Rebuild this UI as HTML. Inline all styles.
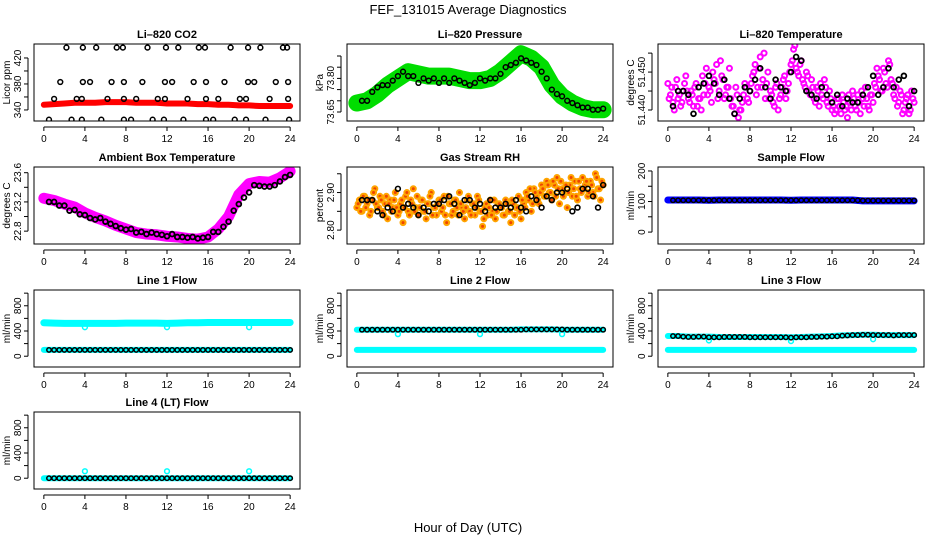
<!DOCTYPE html>
<html><head><meta charset="utf-8"><style>
html,body{margin:0;padding:0;background:#fff}
svg{display:block;font-family:"Liberation Sans",sans-serif}
</style></head><body>
<svg id="c" width="936" height="540" xmlns="http://www.w3.org/2000/svg">
<text x="468" y="14" text-anchor="middle" font-size="13">FEF_131015  Average Diagnostics</text>
<text x="468" y="532" text-anchor="middle" font-size="13">Hour of Day (UTC)</text>
</svg>
<script>
const xTicks=[0,4,8,12,16,20,24];
// CO2
const co2FineT=[0,1,2,3,4,5,6,7,8,9,10,11,12,13,14,15,16,17,18,19,20,21,22,23,24];
const co2Fine=[348,349,350,351,351,351,352,352,352,351,351,351,350,350,350,349,349,348,348,347,347,346,346,346,346];
const co2AvgT=[2.2,3.8,5.1,7.1,7.7,10.1,11.9,13.1,15.1,15.7,18.2,19.9,21.1,23.3,23.7,1.6,3.8,4.5,6.6,7.8,9.6,11.8,12.5,14.6,15.8,17.6,19.9,20.5,22.6,23.8,1.0,3.2,3.7,6.2,7.8,9.0,11.1,11.8,14.0,15.8,17.0,19.1,19.7,22.0,23.8,0.5,2.7,3.7,5.6,7.8,8.5,10.6,11.7,13.6,15.8,16.5,18.6,19.7,21.6,23.9];
const co2Avg=[436,436,436,436,436,436,436,436,436,436,436,436,436,436,436,383,383,383,383,383,383,383,383,383,383,383,383,383,383,383,357,357,357,357,357,357,357,357,357,357,357,357,357,357,357,325,325,325,325,325,325,325,325,325,325,325,325,325,325,325];
// Pressure
const presFine=[73.69,73.70,73.73,73.77,73.80,73.83,73.82,73.81,73.81,73.81,73.80,73.79,73.79,73.80,73.83,73.87,73.91,73.89,73.85,73.77,73.72,73.69,73.67,73.66,73.66];
const presAvg=[73.70,73.70,73.74,73.76,73.77,73.77,73.79,73.81,73.83,73.81,73.81,73.78,73.80,73.79,73.80,73.78,73.80,73.78,73.80,73.79,73.78,73.77,73.78,73.80,73.79,73.80,73.80,73.82,73.85,73.86,73.87,73.89,73.88,73.87,73.86,73.83,73.80,73.75,73.73,73.72,73.70,73.69,73.68,73.67,73.67,73.66,73.66,73.665];
// Li-820 temperature
const tempFine=[51.447,51.444,51.442,51.446,51.443,51.441,51.445,51.449,51.443,
51.445,51.441,51.447,51.443,51.440,51.444,51.451,51.446,
51.442,51.448,51.452,51.445,51.449,51.443,51.446,51.451,
51.441,51.439,51.444,51.440,51.442,51.447,51.443,51.445,
51.449,51.452,51.446,51.454,51.448,51.443,51.450,51.445,
51.442,51.446,51.440,51.444,51.448,51.443,51.447,51.452,
51.456,51.451,51.449,51.453,51.447,51.450,51.445,51.448,
51.443,51.446,51.441,51.444,51.448,51.442,51.445,51.440,
51.439,51.443,51.441,51.444,51.440,51.438,51.442,51.445,
51.441,51.444,51.439,51.443,51.446,51.441,51.444,51.442,
51.446,51.449,51.445,51.451,51.447,51.453,51.448,51.444,
51.446,51.442,51.444,51.440,51.443,51.439,51.445,51.442];
const tempFine2=[51.443,51.446,51.440,51.448,51.444,51.442,51.447,51.445,
51.442,51.444,51.446,51.441,51.443,51.449,51.447,51.444,
51.445,51.450,51.447,51.443,51.453,51.448,51.444,51.446,
51.443,51.441,51.446,51.438,51.440,51.444,51.446,51.442,
51.447,51.450,51.444,51.451,51.446,51.455,51.447,51.443,
51.444,51.441,51.447,51.443,51.446,51.449,51.445,51.450,
51.453,51.457,51.450,51.452,51.448,51.446,51.449,51.444,
51.446,51.442,51.445,51.447,51.443,51.446,51.441,51.443,
51.441,51.440,51.443,51.439,51.442,51.441,51.444,51.440,
51.443,51.440,51.442,51.445,51.441,51.443,51.440,51.444,
51.447,51.451,51.448,51.445,51.450,51.446,51.452,51.447,
51.443,51.441,51.445,51.439,51.442,51.444,51.440,51.443];
const tempAvg=[51.441,51.445,51.445,51.444,51.439,51.446,51.447,51.449,51.447,51.444,51.448,51.443,51.439,51.443,51.446,51.445,51.448,51.451,51.446,51.443,51.448,51.446,51.445,51.450,51.454,51.453,51.445,51.444,51.443,51.446,51.444,51.442,51.444,51.441,51.443,51.442,51.442,51.444,51.446,51.449,51.444,51.446,51.451,51.446,51.448,51.449,51.441,51.445];
// Ambient
const ambFine=[23.25,23.22,23.17,23.13,23.05,22.99,22.94,22.88,22.83,22.78,22.76,22.75,22.73,22.72,22.70,22.69,22.72,22.83,23.00,23.30,23.45,23.48,23.47,23.53,23.62];
const ambAvg=[23.20,23.20,23.15,23.15,23.08,23.09,23.03,23.02,22.98,22.96,22.98,22.93,22.90,22.87,22.84,22.82,22.83,22.78,22.79,22.76,22.78,22.76,22.75,22.73,22.76,22.72,22.72,22.71,22.72,22.70,22.71,22.72,22.79,22.79,22.86,22.93,23.08,23.17,23.26,23.33,23.43,23.42,23.41,23.41,23.43,23.48,23.54,23.57];
// RH
const rhFine=[2.86,2.88,2.85,2.89,2.87,2.84,2.88,2.91,2.86,
2.89,2.85,2.87,2.83,2.88,2.86,2.90,2.84,
2.87,2.82,2.89,2.85,2.88,2.91,2.86,2.84,
2.88,2.85,2.83,2.87,2.90,2.86,2.84,2.88,
2.85,2.89,2.82,2.87,2.84,2.88,2.86,2.90,
2.86,2.83,2.88,2.85,2.87,2.84,2.89,2.85,
2.81,2.86,2.84,2.88,2.85,2.83,2.87,2.86,
2.84,2.88,2.85,2.82,2.87,2.86,2.89,2.83,
2.87,2.90,2.88,2.85,2.91,2.89,2.87,2.92,
2.89,2.93,2.90,2.88,2.92,2.94,2.87,2.91,
2.90,2.86,2.92,2.89,2.93,2.88,2.91,2.94,
2.92,2.89,2.93,2.90,2.95,2.91,2.88,2.92];
const rhFine2=[2.87,2.85,2.89,2.86,2.88,2.85,2.90,2.87,
2.86,2.88,2.84,2.89,2.87,2.85,2.88,2.86,
2.85,2.88,2.86,2.90,2.84,2.87,2.85,2.89,
2.86,2.88,2.85,2.87,2.89,2.84,2.86,2.87,
2.88,2.86,2.84,2.89,2.87,2.85,2.88,2.84,
2.87,2.85,2.86,2.89,2.84,2.87,2.86,2.88,
2.85,2.83,2.87,2.86,2.84,2.88,2.85,2.87,
2.86,2.84,2.87,2.85,2.88,2.84,2.86,2.85,
2.88,2.86,2.89,2.91,2.87,2.90,2.88,2.90,
2.91,2.89,2.92,2.90,2.93,2.89,2.91,2.93,
2.89,2.92,2.90,2.94,2.91,2.89,2.93,2.90,
2.91,2.93,2.90,2.92,2.89,2.94,2.91,2.93];
const rhAvg=[2.88,2.88,2.88,2.85,2.84,2.86,2.85,2.91,2.86,2.87,2.86,2.84,2.86,2.85,2.87,2.87,2.88,2.89,2.87,2.84,2.88,2.88,2.86,2.87,2.85,2.88,2.86,2.86,2.87,2.86,2.88,2.86,2.85,2.89,2.88,2.86,2.89,2.88,2.90,2.90,2.91,2.85,2.86,2.91,2.91,2.89,2.86,2.92];
// Flows
const sampFine=[105,105,105,105,104,105,105,105,105,105,105,105,104,105,105,105,105,105,105,102,102,102,102,102,102];
const sampAvg=[104,104,104,104,104,104,104,104,104,104,104,104,104,104,104,104,104,104,104,104,104,104,104,104,104,104,104,104,104,104,104,104,104,104,104,104,104,103,103,103,103,103,103,103,103,103,103,103];
const l1Hi=[530,525,520,520,520,520,520,520,525,525,525,525,520,525,530,530,535,535,535,535,535,535,535,535,535];
const l1Lo=[100,100,100,100,100,100,100,100,100,100,100,100,100,100,100,100,100,100,100,100,100,100,100,100,100];
const l1Avg=[100,100,100,100,100,100,100,100,100,100,100,100,100,100,100,100,100,100,100,100,100,100,100,100,100,100,100,100,100,100,100,100,100,100,100,100,100,100,100,100,100,100,100,100,100,100,100,100];
const l1Out=[460,460,460];
const l2Hi=[420,420,420,420,420,420,420,420,420,420,420,420,420,420,420,420,425,425,425,425,420,420,420,420,420];
const l2Lo=[100,100,100,100,100,100,100,100,100,100,100,100,100,100,100,100,100,100,100,100,100,100,100,100,100];
const l2Avg=[420,420,420,420,420,420,420,420,420,420,420,420,420,420,420,420,420,420,420,420,420,420,420,420,420,420,420,420,420,420,420,420,425,425,425,425,425,425,425,425,420,420,420,420,420,420,420,420];
const l2Out=[350,350,350];
const l3Hi=[320,320,310,310,310,305,305,305,305,305,305,305,300,305,310,315,320,330,335,340,340,335,335,335,335];
const l3Lo=[100,100,100,100,100,100,100,100,100,100,100,100,100,100,100,100,100,100,100,100,100,100,100,100,100];
const l3Avg=[320,320,310,305,305,310,310,300,300,300,305,305,305,305,305,300,300,300,300,300,300,300,300,295,300,300,300,305,305,310,310,315,315,325,330,335,335,340,340,335,335,335,335,330,335,335,335,335];
const l3Out=[250,240,270];
const l4Hi=[0,0,0,0,0,0,0,0,0,0,0,0,0,0,0,0,0,0,0,0,0,0,0,0,0];
const l4Avg=[0,0,0,0,0,0,0,0,0,0,0,0,0,0,0,0,0,0,0,0,0,0,0,0,0,0,0,0,0,0,0,0,0,0,0,0,0,0,0,0,0,0,0,0,0,0,0,0];
const l4Out=[110,110,110];
const outT=[4,12,20];

const NS='http://www.w3.org/2000/svg';
const svg=document.getElementById('c');
const colL=[34,347,658], rowT=[44,167,290,412], PW=266, PH=77;
const hourly=[0,1,2,3,4,5,6,7,8,9,10,11,12,13,14,15,16,17,18,19,20,21,22,23,24];
const quarter=[];for(let i=0;i<97;i++)quarter.push(i*0.25);
const quarter2=[];for(let i=0;i<96;i++)quarter2.push(0.125+i*0.25);
const half=[];for(let i=1;i<=48;i++)half.push(i*0.5);
function mk(tag,attrs,parent){const e=document.createElementNS(NS,tag);for(const k in attrs)e.setAttribute(k,attrs[k]);(parent||svg).appendChild(e);return e;}

function panel(p){
  const L=colL[p.col],T=rowT[p.row];
  const g=mk('g',{});
  
  
  const X=h=>L+(h+0.96)/25.92*PW;
  const Y=v=>T+PH-(v-p.lo)/(p.hi-p.lo)*PH;
  const t=mk('text',{x:L+PW/2,y:T-6,'text-anchor':'middle','font-size':'11','font-weight':'bold'},g);
  t.textContent=p.title;
  
  
  const xa=mk('g',{},g);
  
  
  mk('line',{x1:X(0),x2:X(24),y1:T+PH+6,y2:T+PH+6,stroke:'#000'},xa);
  xTicks.forEach(h=>{mk('line',{x1:X(h),x2:X(h),y1:T+PH+6,y2:T+PH+10,stroke:'#000'},xa);
    const tx=mk('text',{x:X(h),y:T+PH+21,'text-anchor':'middle','font-size':'10'},xa);tx.textContent=h;
    
    });
  const ya=mk('g',{},g);
  
  
  mk('line',{x1:L-6,x2:L-6,y1:Y(p.ticks[0]),y2:Y(p.ticks[p.ticks.length-1]),stroke:'#000'},ya);
  p.ticks.forEach(v=>mk('line',{x1:L-10,x2:L-6,y1:Y(v),y2:Y(v),stroke:'#000'},ya));
  p.labels.forEach(v=>{const tx=mk('text',{x:0,y:0,'text-anchor':'middle','font-size':'10',transform:`translate(${L-13},${Y(v)}) rotate(-90)`},ya);tx.textContent=v;
    
    });
  const yt=mk('text',{x:0,y:0,'text-anchor':'middle','font-size':'10',transform:`translate(${L-24},${T+PH/2}) rotate(-90)`},ya);
  yt.textContent=p.ylab;
  
  
  const clip='cl'+p.row+p.col;
  const cp=mk('clipPath',{id:clip},g);mk('rect',{x:L,y:T,width:PW,height:PH},cp);
  const pl=mk('g',{'clip-path':`url(#${clip})`},g);
  
  
  p.series.forEach(s=>{
    const sg=mk('g',{},pl);
    
    
    if(s.band){mk('polyline',{points:s.t.map((h,i)=>X(h)+','+Y(s.v[i])).join(' '),fill:'none',stroke:s.color,'stroke-width':s.band,'stroke-linejoin':'round','stroke-linecap':'round'},sg);}
    if(s.pts!==false){s.t.forEach((h,i)=>{const c=mk('circle',{cx:X(h),cy:Y(s.v[i]),r:s.r||2.4,fill:s.fill||'none',stroke:s.color,'stroke-width':s.sw||1.5},sg);
      
      });}
  });
  mk('rect',{x:L,y:T,width:PW,height:PH,fill:'none',stroke:'#000','stroke-width':1},g);
}
const flowTicks=[0,200,400,600,800,1000],flowLabels=[0,400,800];
panel({name:'panel-co2',col:0,row:0,title:'Li\u2013820 CO2',ylab:'Licor ppm',lo:323,hi:441.5,ticks:[340,360,380,400,420],labels:[340,380,420],
 series:[{name:'co2-fine',t:co2FineT,v:co2Fine,color:'#ff0000',band:6,pts:false},{name:'co2-avg',t:co2AvgT,v:co2Avg,color:'#000'}]});
panel({name:'panel-pressure',col:1,row:0,title:'Li\u2013820 Pressure',ylab:'kPa',lo:73.6098,hi:73.9536,ticks:[73.65,73.70,73.75,73.80,73.85,73.90],labels:['73.65','73.80'],
 series:[{name:'pressure-fine',t:hourly,v:presFine,color:'#00dd00',band:17,pts:false},{name:'pressure-avg',t:half,v:presAvg,color:'#000'}]});
panel({name:'panel-li820-temp',col:2,row:0,title:'Li\u2013820 Temperature',ylab:'degrees C',lo:51.4371,hi:51.4574,ticks:[51.440,51.445,51.450,51.455],labels:['51.440','51.450'],
 series:[{name:'temp-fine',t:quarter,v:tempFine,color:'#ff00ff',r:2.5,sw:2},{name:'temp-fine-2',t:quarter2,v:tempFine2,color:'#ff00ff',r:2.5,sw:2},{name:'temp-avg',t:half,v:tempAvg,color:'#000',sw:1.8}]});
panel({name:'panel-ambient',col:0,row:1,title:'Ambient Box Temperature',ylab:'degrees C',lo:22.624,hi:23.678,ticks:[22.8,23.0,23.2,23.4,23.6],labels:['22.8','23.2','23.6'],
 series:[{name:'ambient-fine',t:hourly,v:ambFine,color:'#ff00ff',band:11,pts:false},{name:'ambient-avg',t:half,v:ambAvg,color:'#000',sw:1.8}]});
panel({name:'panel-rh',col:1,row:1,title:'Gas Stream RH',ylab:'percent',lo:2.763,hi:2.968,ticks:[2.80,2.85,2.90,2.95],labels:['2.80','2.90'],
 series:[{name:'rh-fine',t:quarter,v:rhFine,color:'#ffa500',r:2.5,sw:2,fill:'#ee4400'},{name:'rh-fine-2',t:quarter2,v:rhFine2,color:'#ffa500',r:2.5,sw:2,fill:'#ee4400'},{name:'rh-avg',t:half,v:rhAvg,color:'#000',sw:1.6}]});
panel({name:'panel-sample-flow',col:2,row:1,title:'Sample Flow',ylab:'ml/min',lo:-39,hi:213,ticks:[0,50,100,150,200],labels:[0,100,200],
 series:[{name:'sample-fine',t:hourly,v:sampFine,color:'#0000ff',band:7,pts:false},{name:'sample-avg',t:half,v:sampAvg,color:'#000',r:2.2}]});
panel({name:'panel-line1',col:0,row:2,title:'Line 1 Flow',ylab:'ml/min',lo:-171,hi:1050,ticks:flowTicks,labels:flowLabels,
 series:[{name:'line1-high',t:hourly,v:l1Hi,color:'#00ffff',band:7,pts:false},{name:'line1-low',t:hourly,v:l1Lo,color:'#00ffff',band:6,pts:false},{name:'line1-outliers',t:outT,v:l1Out,color:'#00ffff'},{name:'line1-avg',t:half,v:l1Avg,color:'#000',r:2.2}]});
panel({name:'panel-line2',col:1,row:2,title:'Line 2 Flow',ylab:'ml/min',lo:-171,hi:1050,ticks:flowTicks,labels:flowLabels,
 series:[{name:'line2-high',t:hourly,v:l2Hi,color:'#00ffff',band:6,pts:false},{name:'line2-low',t:hourly,v:l2Lo,color:'#00ffff',band:6,pts:false},{name:'line2-outliers',t:outT,v:l2Out,color:'#00ffff'},{name:'line2-avg',t:half,v:l2Avg,color:'#000',r:2.2}]});
panel({name:'panel-line3',col:2,row:2,title:'Line 3 Flow',ylab:'ml/min',lo:-171,hi:1050,ticks:flowTicks,labels:flowLabels,
 series:[{name:'line3-high',t:hourly,v:l3Hi,color:'#00ffff',band:6,pts:false},{name:'line3-low',t:hourly,v:l3Lo,color:'#00ffff',band:6,pts:false},{name:'line3-outliers',t:outT,v:l3Out,color:'#00ffff'},{name:'line3-avg',t:half,v:l3Avg,color:'#000',r:2.2}]});
panel({name:'panel-line4',col:0,row:3,title:'Line 4 (LT) Flow',ylab:'ml/min',lo:-171,hi:1050,ticks:flowTicks,labels:flowLabels,
 series:[{name:'line4-fine',t:hourly,v:l4Hi,color:'#00ffff',band:6,pts:false},{name:'line4-outliers',t:outT,v:l4Out,color:'#00ffff'},{name:'line4-avg',t:half,v:l4Avg,color:'#000',r:2.2}]});
</script>
</body></html>
